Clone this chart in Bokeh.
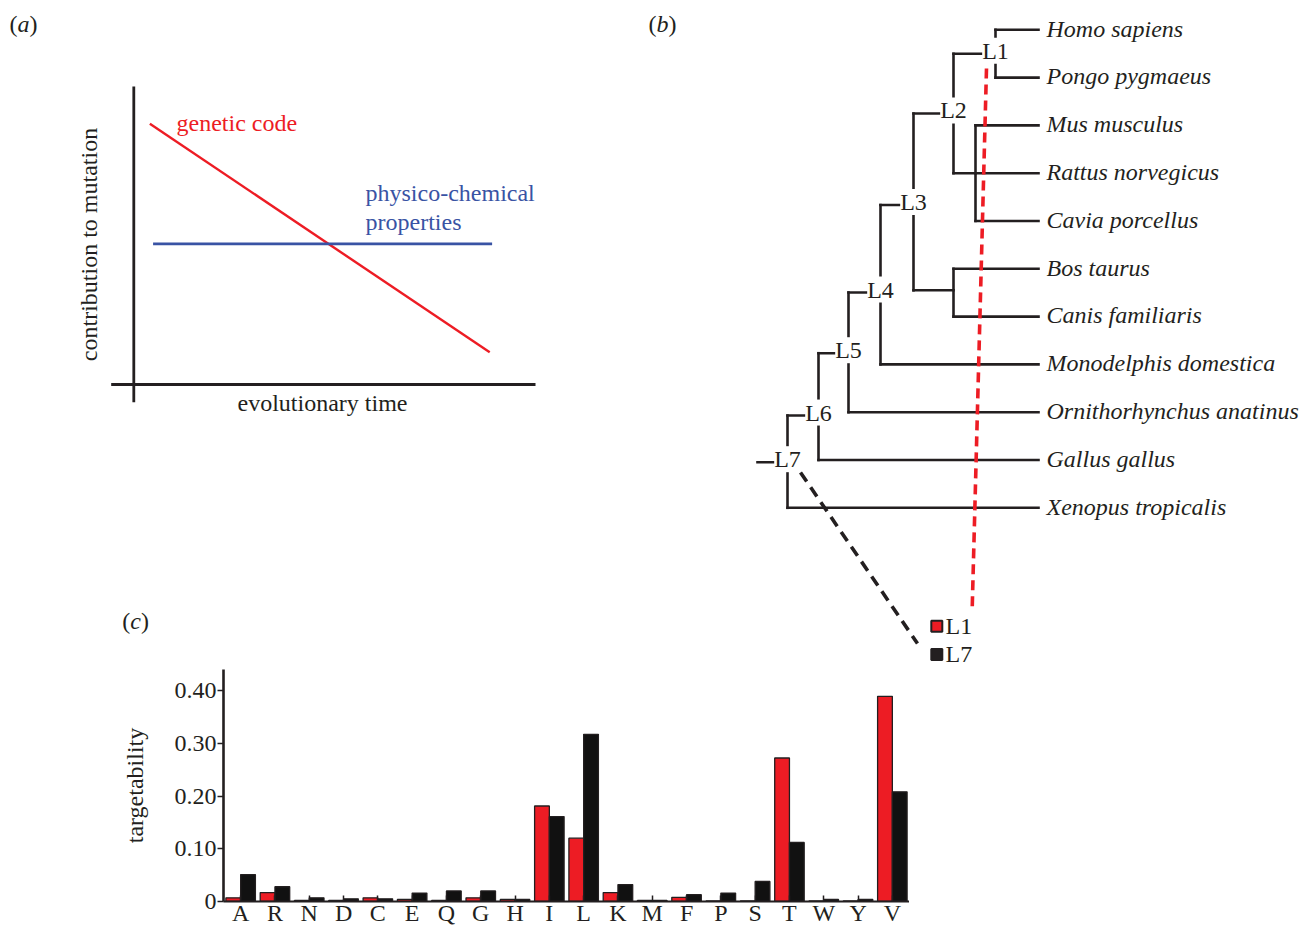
import math
from bokeh.plotting import figure
from bokeh.models import Range1d, FactorRange, FixedTicker, PrintfTickFormatter, ColumnDataSource
from bokeh.transform import dodge
from bokeh.layouts import column, row
from bokeh.core.properties import value
from bokeh.embed import file_html
from bokeh.resources import INLINE

FONT = "Liberation Serif"
RED = "#ed1c24"
BLUE = "#3953a4"
INK = "#231f20"
BAR_BLACK = "#111111"

# ---------------- panel (a): schematic ----------------
time_genetic = [0.040, 0.886]
genetic_code = [0.875, 0.108]
time_physico = [0.048, 0.892]
physico_chemical = [0.472, 0.472]

# ---------------- panel (b): tree ----------------
species = ["Homo sapiens", "Pongo pygmaeus", "Mus musculus", "Rattus norvegicus",
           "Cavia porcellus", "Bos taurus", "Canis familiaris", "Monodelphis domestica",
           "Ornithorhynchus anatinus", "Gallus gallus", "Xenopus tropicalis"]
node_names = ["L1", "rodents", "L2", "laurasiatheria", "L3", "L4", "L5", "L6", "L7"]
node_depth = [995, 975, 953, 953, 913, 880, 848, 818, 787]
node_pos = [0.5, 3.0, 1.75, 5.45, 3.665, 5.496, 6.766, 8.07, 9.046]
node_children = [[0, 1], [2, 3, 4], ["L1", "rodents"], [5, 6], ["L2", "laurasiatheria"],
                 ["L3", 7], ["L4", 8], ["L5", 9], ["L6", 10]]
labelled_nodes = ["L1", "L2", "L3", "L4", "L5", "L6", "L7"]
tip_depth = 1038
root_depth = 757

# ---------------- panel (c): targetability ----------------
categories = ["A", "R", "N", "D", "C", "E", "Q", "G", "H", "I",
              "L", "K", "M", "F", "P", "S", "T", "W", "Y", "V"]
targ_L1 = [0.007, 0.017, 0.002, 0.002, 0.007, 0.004, 0.002, 0.007, 0.004, 0.181,
           0.120, 0.017, 0.002, 0.008, 0.001, 0.001, 0.272, 0.001, 0.001, 0.389]
targ_L7 = [0.051, 0.028, 0.007, 0.005, 0.005, 0.016, 0.020, 0.020, 0.004, 0.161,
           0.317, 0.032, 0.002, 0.013, 0.016, 0.038, 0.112, 0.004, 0.004, 0.208]
y_ticks = [0, 0.1, 0.2, 0.3, 0.4]

TOP_H = 669          # height of the upper row (page pixels)
PAGE_W, PAGE_H = 1301, 928
LEAF_PX = 47.8       # pixels between two leaves of the tree
SHIFT = 7.5          # baseline correction of rendered text (px)


def blank(w, h, xr, yr):
    p = figure(width=w, height=h, x_range=xr, y_range=yr, x_axis_type=None, y_axis_type=None,
               toolbar_location=None, output_backend="svg", min_border=0)
    p.outline_line_color = None
    p.grid.visible = False
    return p


def txt(p, x, y, s, color=INK, style="normal", align="left", angle=0, size="24px", **kw):
    if angle:
        x = x - SHIFT
    else:
        y = y - SHIFT
    return p.text(x=[x], y=[y], text=[s], text_font=value(FONT), text_font_size=size,
                  text_color=color, text_font_style=style, text_align=align,
                  text_baseline="alphabetic", angle=angle, **kw)


def panel_tag(p, x, y, letter, w_letter, **kw):
    txt(p, x, y, "(", **kw)
    txt(p, x + 8, y, letter, style="italic", **kw)
    txt(p, x + 8 + w_letter, y, ")", **kw)


# ================= figure A (left, top) =================
pa = blank(640, TOP_H, Range1d(0, 640), Range1d(TOP_H, 0))
pa.extra_x_ranges = {"t": Range1d((0 - 133.3) / 401.7, (640 - 133.3) / 401.7)}
pa.extra_y_ranges = {"c": Range1d((384 - TOP_H) / 298.0, (384 - 0) / 298.0)}

# schematic axes
pa.line(x=[0, 0], y=[-0.0594, 1.0], x_range_name="t", y_range_name="c",
        line_color=INK, line_width=2.8)
pa.line(x=[-0.0563, 1.0], y=[0, 0], x_range_name="t", y_range_name="c",
        line_color=INK, line_width=2.8)
pa.line(x=time_genetic, y=genetic_code, x_range_name="t", y_range_name="c",
        line_color=RED, line_width=2.4)
pa.line(x=time_physico, y=physico_chemical, x_range_name="t", y_range_name="c",
        line_color=BLUE, line_width=2.7)

txt(pa, 176, 130, "genetic code", color=RED)
txt(pa, 365, 200, "physico-chemical", color=BLUE)
txt(pa, 365, 228.5, "properties", color=BLUE)
txt(pa, 96, 244, "contribution to mutation", align="center", angle=math.pi / 2)
txt(pa, 322, 410, "evolutionary time", align="center")
panel_tag(pa, 9, 31, "a", 12)
panel_tag(pa, 121.7, 628, "c", 10.7)

# ================= figure B (tree) =================
pb = blank(PAGE_W - 640, TOP_H, Range1d(640, PAGE_W),
           Range1d((TOP_H - 29.3) / LEAF_PX, (0 - 29.3) / LEAF_PX))
pb.extra_x_ranges = {"px": Range1d(640, PAGE_W)}
pb.extra_y_ranges = {"py": Range1d(TOP_H, 0)}

node_index = {n: i for i, n in enumerate(node_names)}


def child_xy(c):
    if isinstance(c, int):
        return tip_depth, float(c)
    j = node_index[c]
    return node_depth[j], node_pos[j]


x0s, y0s, x1s, y1s = [], [], [], []
for j, name in enumerate(node_names):
    nx = node_depth[j]
    kids = [child_xy(c) for c in node_children[j]]
    ys = [k[1] for k in kids]
    x0s.append(nx); x1s.append(nx); y0s.append(min(ys)); y1s.append(max(ys))
    for kx, ky in kids:
        x0s.append(nx); x1s.append(kx); y0s.append(ky); y1s.append(ky)
# root stub
jr = node_index["L7"]
x0s.append(root_depth); x1s.append(node_depth[jr]); y0s.append(node_pos[jr]); y1s.append(node_pos[jr])

pb.segment(x0=x0s, y0=y0s, x1=x1s, y1=y1s, line_color=INK, line_width=2.6, line_cap="square")

pb.text(x=[1046] * len(species),
        y=[i + (6.3 - SHIFT) / LEAF_PX for i in range(len(species))], text=species,
        text_font=value(FONT), text_font_size="24px", text_font_style="italic",
        text_color=INK, text_baseline="alphabetic", text_align="left")

lab_x = [node_depth[node_index[n]] for n in labelled_nodes]
lab_y = [node_pos[node_index[n]] - 3.0 / LEAF_PX for n in labelled_nodes]
pb.text(x=lab_x, y=lab_y, text=labelled_nodes, text_font=value(FONT), text_font_size="24px",
        text_color=INK, text_align="center", text_baseline="middle",
        background_fill_color="white")

# dashed connectors to the legend of panel (c)
pb.line(x=[986, 971.7], y=[68, 608], x_range_name="px", y_range_name="py",
        line_color=RED, line_width=3.6, line_dash="10 6")
pb.line(x=[800, 917], y=[472, 643], x_range_name="px", y_range_name="py",
        line_color=INK, line_width=3.6, line_dash="11 7")

pb.rect(x=[936.3, 936.3], y=[625.8, 654], width=11, height=11,
        width_units="screen", height_units="screen",
        fill_color=[RED, INK], line_color=INK, line_width=2,
        x_range_name="px", y_range_name="py")
pb.text(x=[945, 945], y=[633.3 - SHIFT, 660.7 - SHIFT], text=["L1", "L7"],
        text_font=value(FONT), text_font_size="24px", text_color=INK,
        text_baseline="alphabetic", x_range_name="px", y_range_name="py")
panel_tag(pb, 648, 31, "b", 12, x_range_name="px", y_range_name="py")

# ================= figure C (bars) =================
C_H = PAGE_H - TOP_H
FRAME_BOTTOM = 901.0   # page y of the bar baseline
src = ColumnDataSource(dict(cat=categories, l1=targ_L1, l7=targ_L7))
pc = figure(width=223 + 686, height=C_H,
            x_range=FactorRange(factors=categories, range_padding=0),
            y_range=Range1d(0, 0.4 * (FRAME_BOTTOM - TOP_H) / (FRAME_BOTTOM - 690)),
            toolbar_location=None, output_backend="svg",
            min_border_left=223, min_border_right=0, min_border_top=0, min_border_bottom=0)
pc.outline_line_color = None
pc.grid.visible = False

pc.vbar(x=dodge("cat", -0.215, range=pc.x_range), top="l1", width=0.43, source=src,
        fill_color=RED, line_color=INK, line_width=1.3)
pc.vbar(x=dodge("cat", 0.215, range=pc.x_range), top="l7", width=0.43, source=src,
        fill_color=BAR_BLACK, line_color=INK, line_width=1.3)

xa = pc.xaxis[0]
xa.axis_line_width = 2
xa.axis_line_color = INK
xa.major_tick_in = 6
xa.major_tick_out = 0
xa.major_tick_line_color = INK
xa.major_tick_line_width = 1.5
xa.major_label_standoff = -2
xa.major_label_text_font = FONT
xa.major_label_text_font_size = "24px"
xa.major_label_text_color = INK

ya = pc.yaxis[0]
ya.ticker = FixedTicker(ticks=y_ticks)
ya.formatter = PrintfTickFormatter(format="%.2f")
ya.major_label_overrides = {0: "0"}
ya.minor_tick_line_color = None
ya.axis_line_width = 2.6
ya.axis_line_color = INK
ya.major_tick_out = 6
ya.major_tick_in = 0
ya.major_tick_line_color = INK
ya.major_tick_line_width = 1.5
ya.major_label_standoff = 1
ya.major_label_text_font = FONT
ya.major_label_text_font_size = "24px"
ya.major_label_text_color = INK
ya.axis_label = "targetability"
ya.axis_label_text_font = FONT
ya.axis_label_text_font_size = "24px"
ya.axis_label_text_font_style = "normal"
ya.axis_label_text_color = INK
ya.axis_label_standoff = 24

layout = column(row(pa, pb), pc)
open("out.html", "w").write(file_html(layout, INLINE))
